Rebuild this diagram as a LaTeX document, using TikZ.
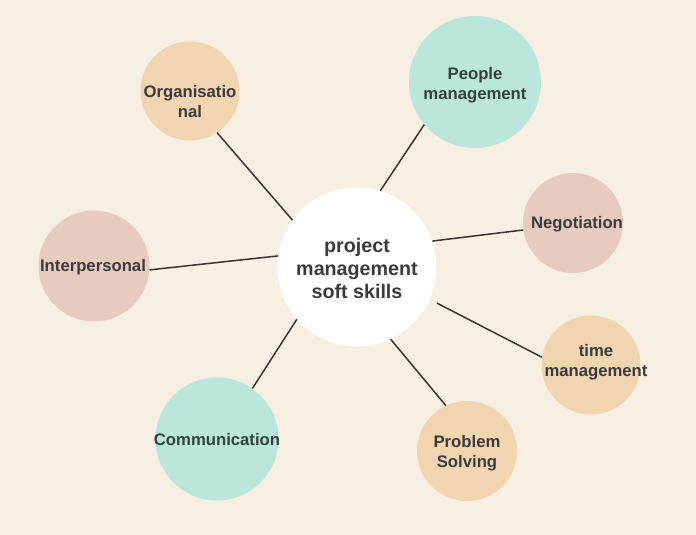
\documentclass[tikz,border=0pt]{standalone}
\usepackage{fontspec}
\setmainfont{Liberation Sans}
\definecolor{bg}{HTML}{F7EFE2}
\definecolor{peach}{HTML}{F1D5B1}
\definecolor{pink}{HTML}{E7CBC0}
\definecolor{teal}{HTML}{BAE6DB}
\definecolor{ink}{HTML}{3B3B3B}
\definecolor{tealink}{HTML}{34423F}
\definecolor{wire}{HTML}{3A3430}
\begin{document}
\begin{tikzpicture}[x=1pt,y=-1pt,
  bubble/.style={circle,draw=none,inner sep=0pt},
  lbl/.style={inner sep=0pt,align=center,text=ink,font=\bfseries\fontsize{16.7}{20}\selectfont},
  hub/.style={inner sep=0pt,align=center,text=ink,font=\bfseries\fontsize{19.7}{23}\selectfont},
  wireline/.style={draw=wire,line width=1.5pt}]
\fill[bg] (0,0) rectangle (696,535);
\useasboundingbox (0,0) rectangle (696,535);
% bubbles
\node[bubble,fill=white,minimum size=159pt] (c) at (357,267) {};
\node[bubble,fill=peach,minimum size=99pt] (org) at (190,91) {};
\node[bubble,fill=teal,minimum size=132pt] (ppl) at (475,82) {};
\node[bubble,fill=pink,minimum size=100pt] (neg) at (573,223) {};
\node[bubble,fill=pink,minimum size=111pt] (int) at (94,266) {};
\node[bubble,fill=peach,minimum size=99pt] (tim) at (591,365) {};
\node[bubble,fill=teal,minimum size=123pt] (com) at (217,439) {};
\node[bubble,fill=peach,minimum size=100pt] (ps) at (467,451) {};
% connectors
\draw[wireline] (c.144) -- (org.-57);
\draw[wireline] (c.73) -- (ppl.-140);
\draw[wireline] (c.19.8) -- (neg.-172);
\draw[wireline] (c.172.5) -- (int.-4.7);
\draw[wireline] (c.-139.6) -- (com.55.7);
\draw[wireline,shorten <=8pt] (c.-24) -- (tim.171.6);
\draw[wireline] (c.-65.2) -- (ps.115.2);
% texts
\node[hub] (ct) at (357,268) {project\\management\\soft skills};
\node[lbl] (orgt) at (190,102) {Organisatio\\nal};
\node[lbl,text=tealink] (pplt) at (475,85) {People\\management};
\node[lbl] (negt) at (577,224) {Negotiation};
\node[lbl] (intt) at (93,267) {Interpersonal};
\node[lbl] (timt) at (596,362) {time\\management};
\node[lbl,text=tealink] (comt) at (217,440) {Communication};
\node[lbl] (pst) at (467,453) {Problem\\Solving};
\end{tikzpicture}
\end{document}
